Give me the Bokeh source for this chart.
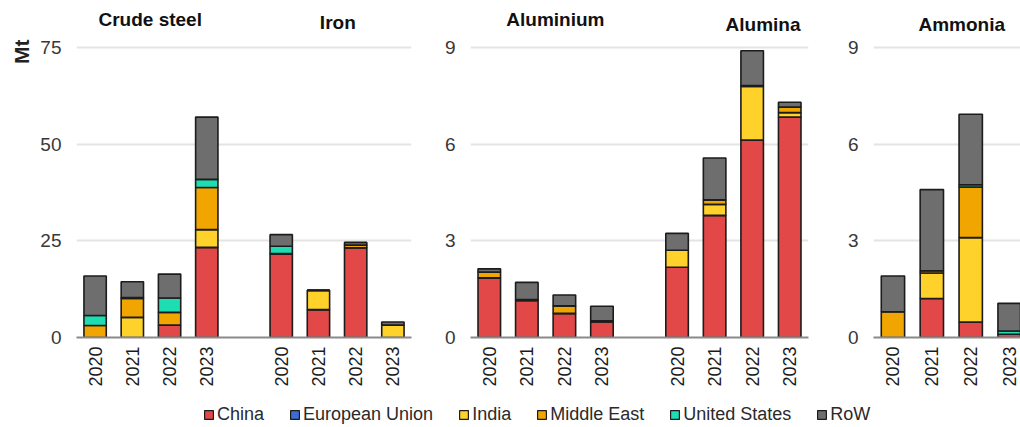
from math import pi

from bokeh.core.properties import value
from bokeh.embed import file_html
from bokeh.layouts import column, row
from bokeh.models import (ColumnDataSource, FixedTicker, Legend, LegendItem,
                          Range1d, Title)
from bokeh.plotting import figure
from bokeh.resources import INLINE

# ---------------------------------------------------------------- data (Mt)
years = ["2020", "2021", "2022", "2023"]
regions = ["China", "European Union", "India", "Middle East", "United States", "RoW"]
colors = ["#E34848", "#3A6ED4", "#FED22A", "#F0A500", "#1EDDB3", "#6E6E6E"]

crude_steel = {
    "China":          [0.0, 0.0, 3.2, 23.3],
    "European Union": [0.0, 0.0, 0.0, 0.0],
    "India":          [0.0, 5.2, 0.0, 4.6],
    "Middle East":    [3.1, 4.9, 3.3, 10.9],
    "United States":  [2.6, 0.2, 3.7, 2.1],
    "RoW":            [10.2, 4.1, 6.2, 16.1],
}
iron = {
    "China":          [21.7, 7.2, 23.2, 0.0],
    "European Union": [0.0, 0.0, 0.0, 0.0],
    "India":          [0.0, 5.0, 0.0, 3.2],
    "Middle East":    [0.0, 0.0, 0.7, 0.0],
    "United States":  [1.9, 0.0, 0.0, 0.0],
    "RoW":            [3.0, 0.0, 0.7, 0.8],
}
aluminium = {
    "China":          [1.85, 1.15, 0.75, 0.49],
    "European Union": [0.0, 0.0, 0.0, 0.0],
    "India":          [0.0, 0.0, 0.0, 0.0],
    "Middle East":    [0.18, 0.03, 0.23, 0.03],
    "United States":  [0.0, 0.0, 0.0, 0.0],
    "RoW":            [0.10, 0.53, 0.34, 0.45],
}
alumina = {
    "China":          [2.18, 3.79, 6.13, 6.84],
    "European Union": [0.0, 0.0, 0.0, 0.0],
    "India":          [0.53, 0.34, 1.66, 0.14],
    "Middle East":    [0.0, 0.14, 0.03, 0.17],
    "United States":  [0.0, 0.0, 0.0, 0.0],
    "RoW":            [0.52, 1.30, 1.08, 0.15],
}
ammonia = {
    "China":          [0.0, 1.21, 0.48, 0.10],
    "European Union": [0.0, 0.0, 0.0, 0.0],
    "India":          [0.0, 0.79, 2.62, 0.0],
    "Middle East":    [0.80, 0.07, 1.57, 0.0],
    "United States":  [0.0, 0.0, 0.07, 0.10],
    "RoW":            [1.11, 2.52, 2.19, 0.86],
}

steel_ticks = [0, 25, 50, 75]
light_ticks = [0, 3, 6, 9]

# ---------------------------------------------------------------- styling
FONT = "Liberation Sans"
TEXT = "#383838"
ROW_H = 395
FRAME_TOP = 5
FRAME_BOTTOM = 58
FRAME_H = ROW_H - FRAME_TOP - FRAME_BOTTOM
BAR_W = 0.6
OUTLINE = "#1c1c1c"


def make_panel(width, left, right, x_end, y_top_tick, y_ticks, groups, titles):
    # y range stretched above the top tick so the titles sit inside the frame
    y_end = y_top_tick * FRAME_H / (FRAME_H - 42)
    p = figure(width=width, height=ROW_H, output_backend="svg",
               toolbar_location=None, x_range=Range1d(-0.5, x_end),
               y_range=Range1d(0, y_end), min_border_left=left,
               min_border_right=right, min_border_top=FRAME_TOP,
               min_border_bottom=FRAME_BOTTOM)
    p.outline_line_color = None
    p.xgrid.grid_line_color = None
    p.ygrid.grid_line_color = "#e4e4e4"
    p.ygrid.grid_line_width = 2
    p.ygrid.ticker = FixedTicker(ticks=y_ticks)

    ticks, overrides = [], {}
    for data, offset in groups:
        xs = [offset + i for i in range(len(years))]
        src = dict(x=xs)
        src.update({r: data[r] for r in regions})
        p.vbar_stack(regions, x="x", width=BAR_W, color=colors,
                     line_color=OUTLINE, line_width=1.6,
                     source=ColumnDataSource(src))
        ticks += xs
        overrides.update({x: y for x, y in zip(xs, years)})

    xa = p.xaxis[0]
    xa.ticker = FixedTicker(ticks=ticks)
    xa.major_label_overrides = overrides
    xa.major_label_orientation = pi / 2
    xa.major_label_text_font = FONT
    xa.major_label_text_font_size = "18px"
    xa.major_label_text_color = "#1a1a1a"
    xa.major_label_standoff = 9
    xa.major_tick_out = 0
    xa.major_tick_in = 0
    xa.minor_tick_out = 0
    xa.minor_tick_in = 0
    xa.axis_line_color = "#8a8a8a"
    xa.axis_line_width = 2

    ya = p.yaxis[0]
    ya.ticker = FixedTicker(ticks=y_ticks)
    ya.major_label_text_font = FONT
    ya.major_label_text_font_size = "19px"
    ya.major_label_text_color = TEXT
    ya.major_label_standoff = 15
    ya.axis_line_color = None
    ya.major_tick_out = 0
    ya.major_tick_in = 0
    ya.minor_tick_out = 0
    ya.minor_tick_in = 0

    for name, tx, ty in titles:
        p.text(x=[tx], y=[y_top_tick * ty], text=[name],
               text_font=value(FONT), text_font_style="bold",
               text_font_size="19px", text_color="#111111",
               text_align="center", text_baseline="middle")
    return p


p1 = make_panel(420, 76, 9, 8.5, 75, steel_ticks,
                [(crude_steel, 0), (iron, 5)],
                [("Crude steel", 1.48, 1.095), ("Iron", 6.52, 1.085)])
# unit label at the top end of the value axis
p1.add_layout(Title(text="Mt", align="right", offset=34, standoff=10,
                    text_font=FONT, text_font_style="bold",
                    text_font_size="21px", text_color="#222222"), "left")

p2 = make_panel(400, 50, 12, 8.5, 9, light_ticks,
                [(aluminium, 0), (alumina, 5)],
                [("Aluminium", 1.76, 1.095), ("Alumina", 7.29, 1.08)])

p3 = make_panel(200, 53, 0, 3.28, 9, light_ticks,
                [(ammonia, 0)],
                [("Ammonia", 1.77, 1.08)])

# ---------------------------------------------------------------- legend strip
leg = figure(width=1020, height=427 - ROW_H, output_backend="svg",
             toolbar_location=None, x_range=Range1d(0, 1),
             y_range=Range1d(0, 1), min_border=0)
leg.axis.visible = False
leg.grid.visible = False
leg.outline_line_color = None
items = []
for name, c in zip(regions, colors):
    # swatch-only renderer: its single bar has no height to draw
    r = leg.vbar(x=[0.5], top=[float("nan")], width=0.1, fill_color=c,
                 line_color=OUTLINE, line_width=1.2)
    items.append(LegendItem(label=name, renderers=[r]))
legend = Legend(items=items, orientation="horizontal", location=(203, 2),
                glyph_width=11, glyph_height=11, label_standoff=3, spacing=25,
                padding=0, margin=0, border_line_color=None,
                background_fill_alpha=0, label_text_font=FONT,
                label_text_font_size="18px", label_text_color="#2a2a2a")
leg.add_layout(legend)

page = column(row(p1, p2, p3), leg)
open("out.html", "w").write(file_html(page, INLINE))
